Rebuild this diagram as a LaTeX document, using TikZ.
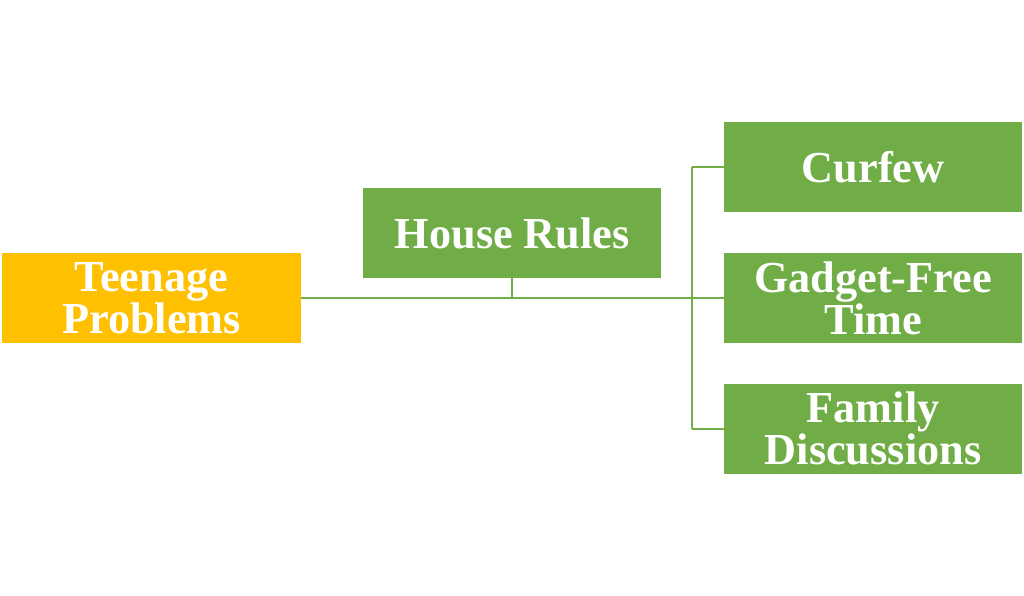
\documentclass[tikz,border=0pt]{standalone}
\usepackage{fontspec}
\setmainfont{Liberation Serif}
\usepackage{tikz}
\usetikzlibrary{positioning}
\usetikzlibrary{calc}
\definecolor{leafgreen}{HTML}{70AD47}
\definecolor{rootgold}{HTML}{FFC000}
\tikzset{
  topic/.style={fill=leafgreen, text=white, minimum width=7.45cm, minimum height=2.25cm,
    inner sep=0pt, align=center, font=\bfseries\fontsize{31.5}{26.3}\selectfont},
  link/.style={draw=leafgreen, line width=1.4pt}
}

\begin{document}
\begin{tikzpicture}[node distance=1cm]
      \useasboundingbox (-3.7875,-7.45) rectangle (21.8125,7.45);
      \node(tp) [topic, fill=rootgold] {Teenage\\Problems};
      \node(gf) [topic, right=10.575cm of tp] {Gadget-Free\\Time};
      \node(cf) [topic, above=1cm of gf] {Curfew};
      \node(fd) [topic, below=1cm of gf] {Family\\Discussions};
      \node(hr) [topic, above=0.49cm, anchor=south] at ($(tp.east)!0.5!(gf.west)$) {House Rules};
      \coordinate(bus) at ([xshift=-0.8cm]gf.west);

      \draw[link](tp.east) -- (gf.west);
      \draw[link](hr.south) -- (hr.south |- tp.east);
      \draw[link](bus |- cf.west) -- (bus |- fd.west);
      \draw[link](bus |- cf.west) -- (cf.west);
      \draw[link](bus |- fd.west) -- (fd.west);
    \end{tikzpicture}
\end{document}
